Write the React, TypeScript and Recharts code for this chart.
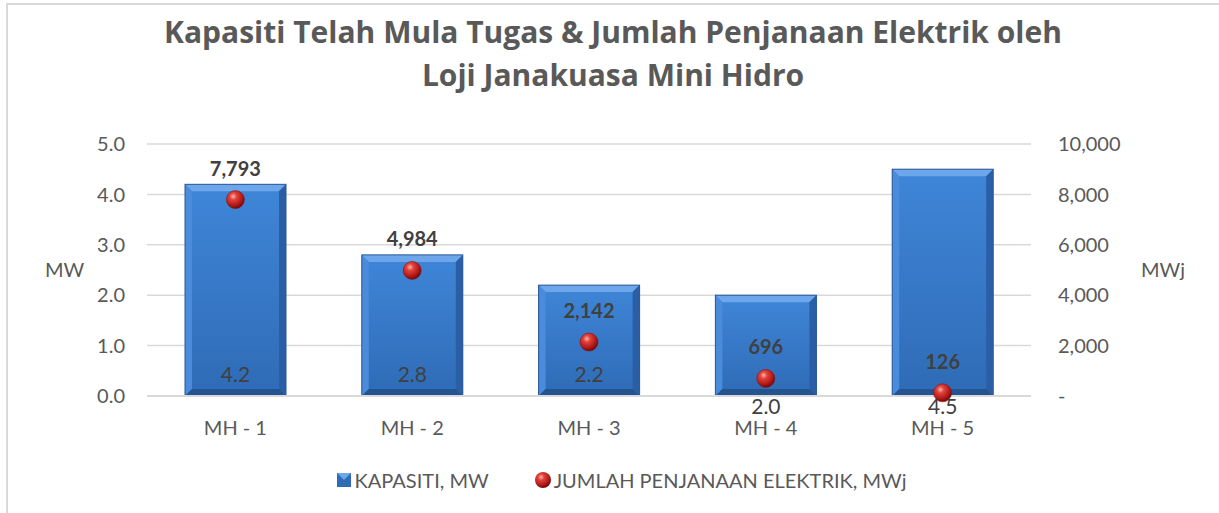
import React from "react";
import { ComposedChart, Bar, Line, XAxis, YAxis, CartesianGrid, Legend, Label } from "recharts";

const categories = ["MH - 1", "MH - 2", "MH - 3", "MH - 4", "MH - 5"];
const kapasiti = [4.2, 2.8, 2.2, 2.0, 4.5];
const penjanaan = [7793, 4984, 2142, 696, 126];
const leftTicks = [0, 1, 2, 3, 4, 5];
const rightTicks = [0, 2000, 4000, 6000, 8000, 10000];

const data = categories.map((name, i) => ({
    name,
    kapasiti: kapasiti[i],
    penjanaan: penjanaan[i],
}));

const grey = "#595959";
const dark = "#404040";
const fs = 20;

// bevelled blue column like the Excel preset
const BevelBar = (props: any) => {
    const { x, y, width, height } = props;
    if (!height || height <= 0) return null;
    const b = 7;
    const r = x + width;
    const bt = y + height;
    return (
        <g>
            <rect x={x} y={y} width={width} height={height} fill="url(#barFill)" />
            <polygon points={`${x},${y} ${r},${y} ${r - b},${y + b} ${x + b},${y + b}`} fill="#6da6ea" />
            <polygon points={`${x},${y} ${x + b},${y + b} ${x + b},${bt - b} ${x},${bt}`} fill="#4a8bdb" />
            <polygon points={`${r},${y} ${r - b},${y + b} ${r - b},${bt - b} ${r},${bt}`} fill="#2a5fa6" />
            <polygon points={`${x},${bt} ${x + b},${bt - b} ${r - b},${bt - b} ${r},${bt}`} fill="#24538f" />
            <rect x={x} y={y} width={width} height={height} fill="none" stroke="#2b5797" strokeWidth={1} />
        </g>
    );
};

const Ball = (props: any) => {
    const { cx, cy, index } = props;
    if (cx == null || cy == null) return null;
    return <circle key={"b" + index} cx={cx} cy={cy} r={9} fill="url(#ballFill)" stroke="#8a1010" strokeWidth={0.6} />;
};

const barLabel = (props: any) => {
    const { x, y, width, height, value, index } = props;
    const inside = y + height - 23;
    const below = y + height + 9;
    return (
        <text key={"bl" + index} x={x + width / 2} y={index < 3 ? inside : below} textAnchor="middle"
            dominantBaseline="central" fill={dark} fontSize={21}>
            {Number(value).toFixed(1)}
        </text>
    );
};

const dotLabel = (props: any) => {
    const { x, y, value, index } = props;
    return (
        <text key={"dl" + index} x={x} y={y - 32} textAnchor="middle" dominantBaseline="central"
            fill={dark} fontSize={20} fontWeight="bold">
            {Number(value).toLocaleString("en-US")}
        </text>
    );
};

const renderLegend = () => (
    <div style={{ display: "flex", justifyContent: "center", alignItems: "center", height: 22, fontSize: fs, color: grey, paddingLeft: 24 }}>
        <svg width={14} height={14} style={{ marginRight: 4 }}>
            <rect x={0} y={0} width={14} height={14} fill="#2f6cb8" />
            <polygon points="0,0 14,0 7,7" fill="#6da6ea" />
        </svg>
        <span>KAPASITI, MW</span>
        <svg width={18} height={18} style={{ marginLeft: 45, marginRight: 2 }}>
            <circle cx={9} cy={9} r={8} fill="url(#ballFillL)" />
            <defs>
                <radialGradient id="ballFillL" cx="38%" cy="32%" r="65%">
                    <stop offset="0%" stopColor="#ffb3a8" />
                    <stop offset="30%" stopColor="#e0433a" />
                    <stop offset="75%" stopColor="#b51a1a" />
                    <stop offset="100%" stopColor="#7a0c0c" />
                </radialGradient>
            </defs>
        </svg>
        <span>JUMLAH PENJANAAN ELEKTRIK, MWj</span>
    </div>
);

const App = () => (
    <div style={{ position: "absolute", left: 0, top: 0, width: 1219, height: 513, overflow: "hidden", background: "#fff", fontFamily: "Lato, sans-serif" }}>
        <div style={{ position: "absolute", left: 6, top: 3, width: 1230, height: 530, border: "2px solid #d9d9d9" }} />
        <div style={{ position: "absolute", left: 0, top: 10, width: 1226, textAlign: "center", fontFamily: "'Open Sans', sans-serif", fontSize: 30, fontWeight: "bold", color: grey, lineHeight: "43px" }}>
            Kapasiti Telah Mula Tugas &amp; Jumlah Penjanaan Elektrik oleh
            <br />
            Loji Janakuasa Mini Hidro
        </div>
        <div style={{ position: "absolute", left: 0, top: 0 }}>
            <ComposedChart width={1219} height={513} data={data} margin={{ top: 144, right: 0, bottom: 55, left: 0 }}>
                <defs>
                    <linearGradient id="barFill" x1="0" y1="0" x2="0" y2="1">
                        <stop offset="0%" stopColor="#3f86d8" />
                        <stop offset="100%" stopColor="#2f6bb6" />
                    </linearGradient>
                    <radialGradient id="ballFill" cx="38%" cy="32%" r="65%">
                        <stop offset="0%" stopColor="#ffb3a8" />
                        <stop offset="30%" stopColor="#e0433a" />
                        <stop offset="75%" stopColor="#b51a1a" />
                        <stop offset="100%" stopColor="#7a0c0c" />
                    </radialGradient>
                </defs>
                <CartesianGrid yAxisId="left" vertical={false} stroke="#d9d9d9" strokeWidth={1.5} />
                <XAxis dataKey="name" height={40} tickSize={0} tickMargin={25} axisLine={{ stroke: "#d9d9d9", strokeWidth: 2 }}
                    tick={{ fill: grey, fontSize: fs }} />
                <YAxis yAxisId="left" width={147} domain={[0, 5]} ticks={leftTicks} interval={0}
                    tickFormatter={(v: number) => v.toFixed(1)} axisLine={false} tickLine={false} tickSize={0} tickMargin={22}
                    tick={{ fill: grey, fontSize: fs }}>
                    <Label value="MW" position="insideLeft" offset={45} angle={0} fill={grey} fontSize={fs} />
                </YAxis>
                <YAxis yAxisId="right" orientation="right" width={188} domain={[0, 10000]} ticks={rightTicks} interval={0}
                    tickFormatter={(v: number) => (v === 0 ? "-" : v.toLocaleString("en-US"))}
                    axisLine={false} tickLine={false} tickSize={0} tickMargin={27} tick={{ fill: grey, fontSize: fs }}>
                    <Label value="MWj" position="insideRight" offset={34} angle={0} fill={grey} fontSize={fs} />
                </YAxis>
                <Bar yAxisId="left" dataKey="kapasiti" name="KAPASITI, MW" barSize={101} shape={BevelBar}
                    label={barLabel} isAnimationActive={false} />
                <Line yAxisId="right" dataKey="penjanaan" name="JUMLAH PENJANAAN ELEKTRIK, MWj" stroke="none"
                    dot={Ball} activeDot={false} label={dotLabel} isAnimationActive={false} />
                <Legend content={renderLegend} wrapperStyle={{ top: 469, left: 0, width: 1219 }} />
            </ComposedChart>
        </div>
    </div>
);

export default App;
